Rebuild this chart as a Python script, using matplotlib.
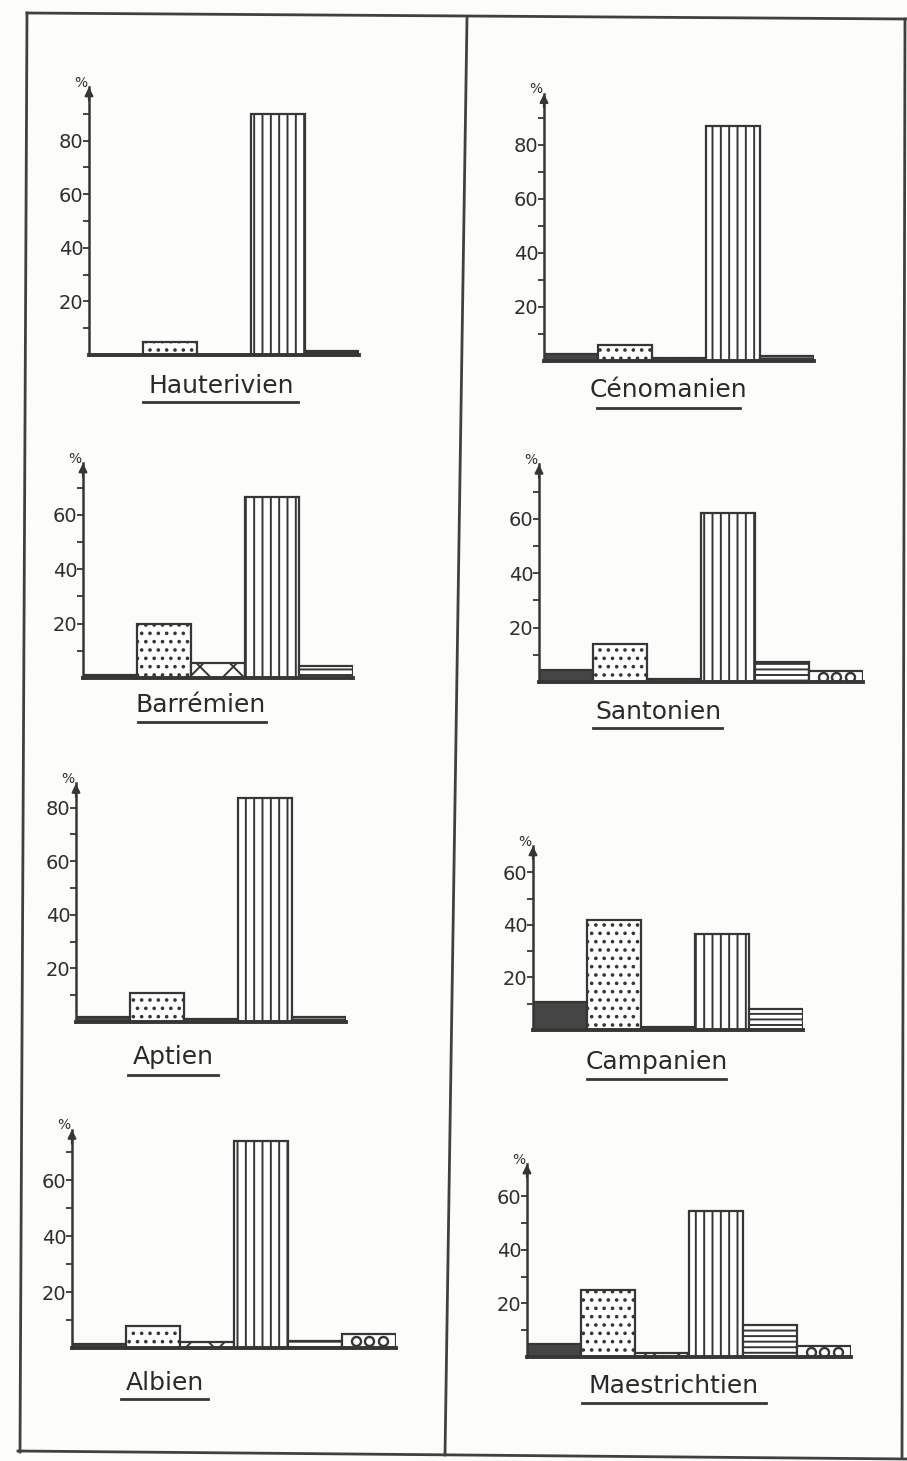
import numpy as np
import matplotlib
matplotlib.use('Agg')
from matplotlib import pyplot as plt
from matplotlib.lines import Line2D

# etages et pourcentages des 6 categories (noir, pointille, croix, vertical, horizontal, cercles)
etages = ['Hauterivien', 'Cénomanien', 'Barrémien', 'Santonien',
          'Aptien', 'Campanien', 'Albien', 'Maestrichtien']
hauterivien = [0, 5, 0, 90, 1.5]
cenomanien = [2.5, 6, 1, 87, 2]
barremien = [1, 20, 5.5, 66.5, 4.5]
santonien = [4.5, 14, 1, 62, 7.5, 4]
aptien = [2, 11, 1, 83.5, 2]
campanien = [10.5, 42, 1, 36.5, 8]
albien = [1.5, 8, 2, 74, 2.5, 5]
maestrichtien = [5, 25, 1.5, 54.5, 12, 4]
valeurs = [hauterivien, cenomanien, barremien, santonien,
           aptien, campanien, albien, maestrichtien]
ymax = [100, 99, 79, 80, 89, 70, 78, 72]

# motifs de remplissage (les cercles sont dessines a part)
motifs = [None, '..', 'x', '||', '---', None]
fonds = ['#454545', 'white', 'white', 'white', 'white', 'white']

W, H = 907, 1461
# position des axes en pixels : x de l'axe, y du zero, pixels par %
pos = [(89, 355, 2.68), (544, 361, 2.70), (83, 678, 2.72), (539, 682, 2.72),
       (76, 1022, 2.68), (533, 1030, 2.63), (72, 1348, 2.80), (527, 1357, 2.68)]
# titres : centre x, y, debut / fin du soulignement, y du soulignement
titres = [(221, 386, 143, 298, 402), (668, 390, 597, 740, 408),
          (201, 705, 138, 266, 722), (658, 712, 593, 722, 728),
          (173, 1057, 128, 218, 1075), (657, 1062, 587, 726, 1079),
          (165, 1383, 121, 208, 1399), (674, 1386, 582, 766, 1403)]
bw = 54
encre = '#363636'

plt.rcParams['hatch.linewidth'] = 1.4
fig = plt.figure(figsize=(W/100, H/100), dpi=100)
fig.patch.set_facecolor('#fcfcfa')

def fx(x):
    return x / W

def fy(y):
    return 1 - y / H

for i in range(len(etages)):
    x0, y0, s = pos[i]
    vals = valeurs[i]
    n = len(vals)
    top = ymax[i]
    ax = fig.add_axes([fx(x0), fy(y0), n*bw/W, top*s/H])
    ax.set_facecolor('none')
    for k in range(n):
        ax.bar(k + 0.5, vals[k], width=1, color=fonds[k], hatch=motifs[k],
               edgecolor=encre, linewidth=1.6)
    if n > 5:
        # trois petits cercles au milieu de la barre
        ax.plot([5.25, 5.5, 5.75], [vals[5] / 2] * 3, ls='none', marker='o',
                ms=6.5, mfc='white', mec=encre, mew=1.7)
    ax.set_xlim(0, n)
    ax.set_ylim(0, top)
    ax.spines['top'].set_visible(False)
    ax.spines['right'].set_visible(False)
    ax.spines['left'].set_color(encre)
    ax.spines['left'].set_linewidth(1.8)
    ax.spines['bottom'].set_color(encre)
    ax.spines['bottom'].set_linewidth(2.8)
    ax.set_xticks([])
    ax.set_yticks(list(range(20, top, 20)))
    ax.set_yticks(list(range(10, top - 2, 20)), minor=True)
    ax.tick_params(axis='y', which='both', length=4, width=1.3, color=encre,
                   pad=0, labelsize=14, labelcolor='#2e2e2e')
    ax.annotate('', xy=(0, top + 1), xytext=(0, top - 6),
                arrowprops=dict(arrowstyle='-|>', color=encre, lw=1.6,
                                mutation_scale=12), annotation_clip=False)
    ax.text(-0.15, top - 1, '%', ha='center', va='bottom', fontsize=10,
            color='#2e2e2e', transform=ax.transData, clip_on=False)

    cx, cy, u0, u1, uy = titres[i]
    fig.text(fx(cx), fy(cy), etages[i], ha='center', va='center',
             fontsize=18, color='#2a2a2a')
    fig.add_artist(Line2D([fx(u0), fx(u1)], [fy(uy), fy(uy)],
                          color=encre, lw=2))

# cadre et separation
cadre = [([27, 907], [13, 19]), ([27, 20], [13, 1452]), ([18, 907], [1451, 1459]),
         ([905, 902], [19, 1458]), ([467, 445], [18, 1455])]
for xs, ys in cadre:
    fig.add_artist(Line2D([fx(x) for x in xs], [fy(y) for y in ys],
                          color='#404040', lw=2))

fig.savefig('out.png', dpi=100, facecolor=fig.get_facecolor())
